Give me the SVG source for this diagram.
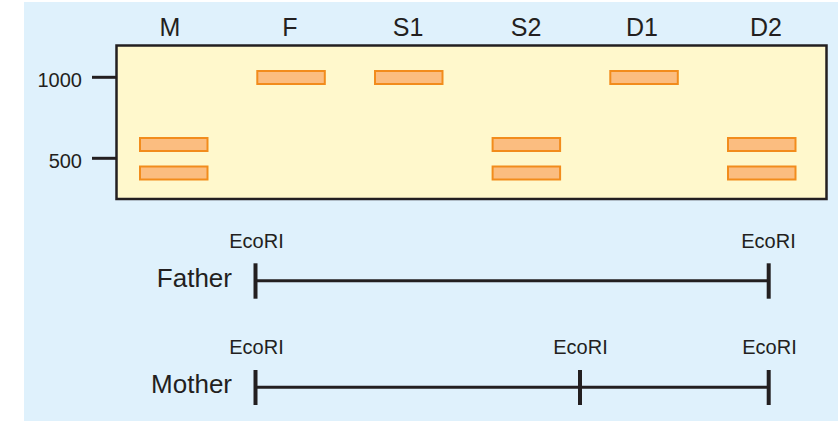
<svg xmlns="http://www.w3.org/2000/svg" width="838" height="421" viewBox="0 0 838 421">
<style>
.lbl{font-family:"Liberation Sans",Arial,sans-serif;fill:#231f20}
.lane{font-size:25px;text-anchor:middle}
.size{font-size:20px;text-anchor:end}
.eco{font-size:20px;text-anchor:middle}
.name{font-size:26px;text-anchor:end}
.band{fill:#fbbd80;stroke:#f28c1c;stroke-width:2}
.ln{stroke:#231f20;stroke-width:3;fill:none}
.tk{stroke:#231f20;stroke-width:4;fill:none}
</style>
<rect x="0" y="0" width="838" height="421" fill="#ffffff"/>
<rect x="24" y="2" width="814" height="419" fill="#dff1fc"/>
<g id="gel">
<rect x="116.5" y="45.5" width="710" height="153.5" fill="#fff8cc" stroke="#231f20" stroke-width="2.5"/>
</g>
<g id="lane-labels">
<text class="lbl lane" x="170" y="36">M</text>
<text class="lbl lane" x="290" y="36">F</text>
<text class="lbl lane" x="408" y="36">S1</text>
<text class="lbl lane" x="526" y="36">S2</text>
<text class="lbl lane" x="642" y="36">D1</text>
<text class="lbl lane" x="766" y="36">D2</text>
</g>
<g id="size-markers">
<text class="lbl size" x="82" y="87">1000</text>
<line class="ln" x1="92" y1="77.3" x2="116" y2="77.3"/>
<text class="lbl size" x="82" y="168">500</text>
<line class="ln" x1="92" y1="158.3" x2="116" y2="158.3"/>
</g>
<g id="bands">
<rect class="band" x="140" y="138" width="67.5" height="13"/>
<rect class="band" x="140" y="166.5" width="67.5" height="13"/>
<rect class="band" x="257.3" y="71" width="67.5" height="13"/>
<rect class="band" x="375" y="71" width="67.5" height="13"/>
<rect class="band" x="492.6" y="138" width="67.5" height="13"/>
<rect class="band" x="492.6" y="166.5" width="67.5" height="13"/>
<rect class="band" x="610.3" y="71" width="67.5" height="13"/>
<rect class="band" x="728" y="138" width="67.5" height="13"/>
<rect class="band" x="728" y="166.5" width="67.5" height="13"/>
</g>
<g id="father">
<text class="lbl name" x="232" y="287">Father</text>
<text class="lbl eco" x="256.5" y="248">EcoRI</text>
<text class="lbl eco" x="768.5" y="248">EcoRI</text>
</g>
<g id="mother">
<text class="lbl name" x="232" y="393">Mother</text>
<text class="lbl eco" x="256.5" y="354">EcoRI</text>
<text class="lbl eco" x="580.5" y="354">EcoRI</text>
<text class="lbl eco" x="769.5" y="354">EcoRI</text>
</g>
<g id="connectors">
<line class="ln" x1="255.5" y1="280.7" x2="768.7" y2="280.7"/>
<line class="tk" x1="255.5" y1="263.3" x2="255.5" y2="298.7"/>
<line class="tk" x1="768.7" y1="263.3" x2="768.7" y2="298.7"/>
<line class="ln" x1="255.5" y1="387.3" x2="768.7" y2="387.3"/>
<line class="tk" x1="255.5" y1="370" x2="255.5" y2="405"/>
<line class="tk" x1="580" y1="370" x2="580" y2="405"/>
<line class="tk" x1="768.7" y1="370" x2="768.7" y2="405"/>
</g>
</svg>
